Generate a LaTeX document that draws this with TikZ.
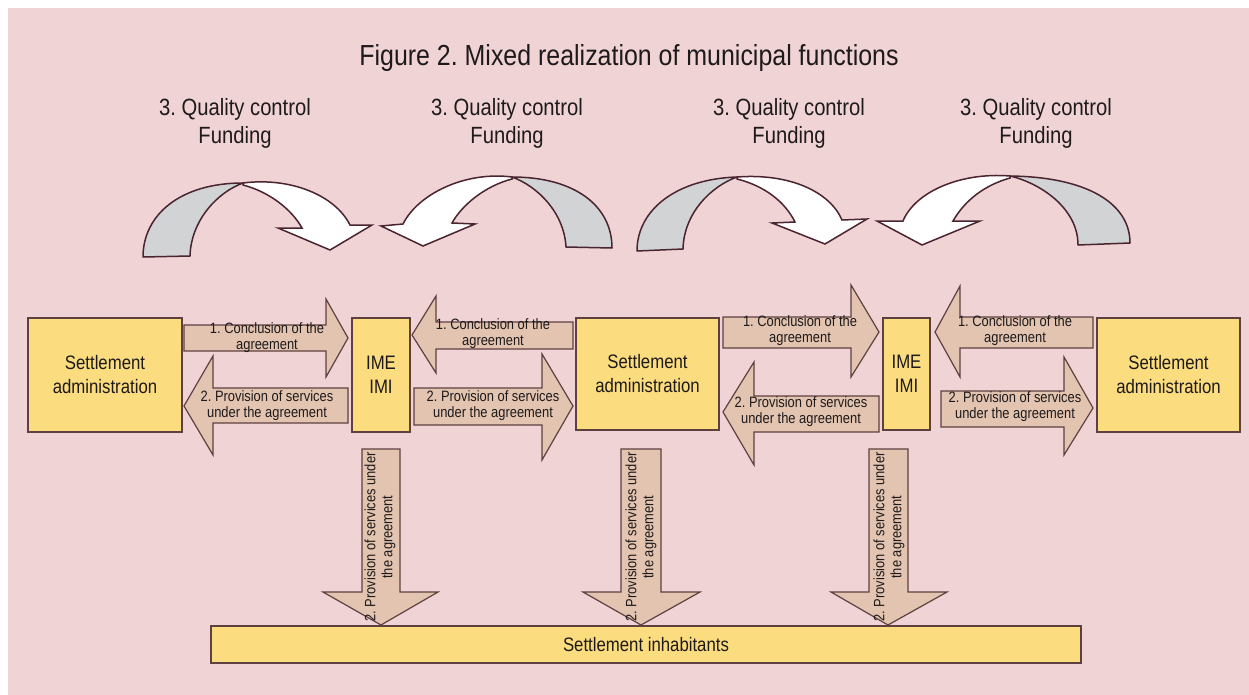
\documentclass[tikz,border=0pt]{standalone}
\usepackage{fontspec}
\setmainfont{Liberation Sans}[FakeStretch=0.86]
\frenchspacing
\definecolor{bg}{HTML}{F0D3D5}
\definecolor{yel}{HTML}{FBDC7E}
\definecolor{tanf}{HTML}{E2C4B0}
\definecolor{edgec}{HTML}{5E4040}
\definecolor{curv}{HTML}{4A2430}
\definecolor{greyf}{HTML}{D1D3D4}
\definecolor{txt}{HTML}{1E1A1B}
\tikzset{
  box/.style={draw=edgec, fill=yel, line width=1.4pt, align=center, inner sep=0pt, text=txt,
    font=\fontsize{19.5}{24}\selectfont},
  blk/.style={draw=edgec, fill=tanf, line width=1.2pt, line join=miter},
  lbl/.style={align=center, inner sep=0pt, text=txt, font=\fontsize{15}{16}\selectfont},
  vlbl/.style={align=center, inner sep=0pt, text=txt, rotate=90, font=\fontsize{15}{17}\selectfont},
  qlbl/.style={align=center, inner sep=0pt, text=txt, font=\fontsize{23.5}{28}\selectfont},
  cgrey/.style={draw=curv, fill=greyf, line width=1.5pt, line join=round},
  cwhite/.style={draw=curv, fill=white, line width=1.5pt, line join=miter},
}
\begin{document}
\begin{tikzpicture}[x=1pt, y=-1pt]
\useasboundingbox (0,0) rectangle (1249,695);
\fill[white] (0,0) rectangle (1249,695);
\fill[bg] (8,8) rectangle (1249,695);

% title
\node[inner sep=0pt, text=txt, font=\fontsize{29}{34}\selectfont] (title) at (629,58) {Figure 2. Mixed realization of municipal functions};

% top labels
\node[qlbl] (q1) at (235,123) {3. Quality control\\Funding};
\node[qlbl] (q2) at (507,123) {3. Quality control\\Funding};
\node[qlbl] (q3) at (789,123) {3. Quality control\\Funding};
\node[qlbl] (q4) at (1036,123) {3. Quality control\\Funding};

% curved arrow 1
\draw[cgrey] (143,257) .. controls (143,215) and (180,183) .. (243,183)
  .. controls (218,192) and (191,220) .. (190,256) -- cycle;
\draw[cwhite] (243,183) .. controls (290,177) and (335,195) .. (350,225) -- (372,225) -- (330,250)
  -- (278,228) -- (302,228) .. controls (292,210) and (270,192) .. (243,185) -- cycle;
% curved arrow 2
\draw[cgrey] (612,248) .. controls (612,206) and (575,177) .. (512,177)
  .. controls (537,186) and (564,212) .. (566,247) -- cycle;
\draw[cwhite] (512,177) .. controls (465,171) and (418,194) .. (403,224) -- (381,226) -- (423,246)
  -- (475,224) -- (452,223) .. controls (462,205) and (485,186) .. (512,179) -- cycle;
% curved arrow 3
\draw[cgrey] (637,251) .. controls (637,210) and (676,179) .. (737,177)
  .. controls (712,186) and (684,212) .. (683,249) -- cycle;
\draw[cwhite] (737,177) .. controls (790,173) and (830,192) .. (842,220) -- (867,219) -- (825,244)
  -- (772,223) -- (795,222) .. controls (785,202) and (765,186) .. (737,179) -- cycle;
% curved arrow 4
\draw[cgrey] (1130,243) .. controls (1130,205) and (1090,177) .. (1010,176)
  .. controls (1040,183) and (1078,208) .. (1078,245) -- cycle;
\draw[cwhite] (1010,176) .. controls (960,172) and (915,192) .. (903,221) -- (877,221) -- (922,245)
  -- (980,221) -- (953,221) .. controls (965,200) and (985,185) .. (1010,178) -- cycle;

% horizontal block arrows
\draw[blk] (184,325) -- (326,325) -- (326,299) -- (348,338) -- (326,377) -- (326,351) -- (184,351) -- cycle;
\draw[blk] (348,388) -- (213,388) -- (213,356) -- (184,406) -- (213,455) -- (213,423) -- (348,423) -- cycle;
\draw[blk] (573,322) -- (436,322) -- (436,296) -- (412,335) -- (436,373) -- (436,349) -- (573,349) -- cycle;
\draw[blk] (414,388) -- (542,388) -- (542,354) -- (573,406) -- (542,460) -- (542,425) -- (414,425) -- cycle;
\draw[blk] (723,317) -- (851,317) -- (851,285) -- (879,332) -- (851,377) -- (851,348) -- (723,348) -- cycle;
\draw[blk] (879,396) -- (754,396) -- (754,362) -- (723,412) -- (754,465) -- (754,432) -- (879,432) -- cycle;
\draw[blk] (1093,317) -- (960,317) -- (960,286) -- (935,332) -- (960,377) -- (960,348) -- (1093,348) -- cycle;
\draw[blk] (941,391) -- (1064,391) -- (1064,357) -- (1093,408) -- (1064,455) -- (1064,427) -- (941,427) -- cycle;

\node[lbl] (t1) at (267,338) {1. Conclusion of the\\agreement};
\node[lbl] (t2) at (267,406) {2. Provision of services\\under the agreement};
\node[lbl] (t3) at (493,334) {1. Conclusion of the\\agreement};
\node[lbl] (t4) at (493,406) {2. Provision of services\\under the agreement};
\node[lbl] (t5) at (800,331) {1. Conclusion of the\\agreement};
\node[lbl] (t6) at (801,412) {2. Provision of services\\under the agreement};
\node[lbl] (t7) at (1015,331) {1. Conclusion of the\\agreement};
\node[lbl] (t8) at (1015,407) {2. Provision of services\\under the agreement};

% vertical block arrows
\draw[blk] (362,449) -- (400,449) -- (400,592) -- (438,592) -- (381,625) -- (323,592) -- (362,592) -- cycle;
\draw[blk] (621,449) -- (661,449) -- (661,592) -- (700,592) -- (641,625) -- (583,592) -- (621,592) -- cycle;
\draw[blk] (869,449) -- (908,449) -- (908,592) -- (947,592) -- (888,625) -- (831,592) -- (869,592) -- cycle;

% boxes
\node[box, minimum width=154, minimum height=114] (sa1) at (105,375) {Settlement\\administration};
\node[box, minimum width=58, minimum height=114] (ime1) at (381,375) {IME\\IMI};
\node[box, minimum width=143, minimum height=112] (sa2) at (647.5,374) {Settlement\\administration};
\node[box, minimum width=47, minimum height=112] (ime2) at (906.5,374) {IME\\IMI};
\node[box, minimum width=143, minimum height=114] (sa3) at (1168.5,375) {Settlement\\administration};
\node[box, minimum width=870, minimum height=37] (inh) at (646,644.5) {Settlement inhabitants};

\node[vlbl] (v1) at (380,537) {2. Provision of services under\\the agreement};
\node[vlbl] (v2) at (641,537) {2. Provision of services under\\the agreement};
\node[vlbl] (v3) at (889,537) {2. Provision of services under\\the agreement};
\end{tikzpicture}
\end{document}
